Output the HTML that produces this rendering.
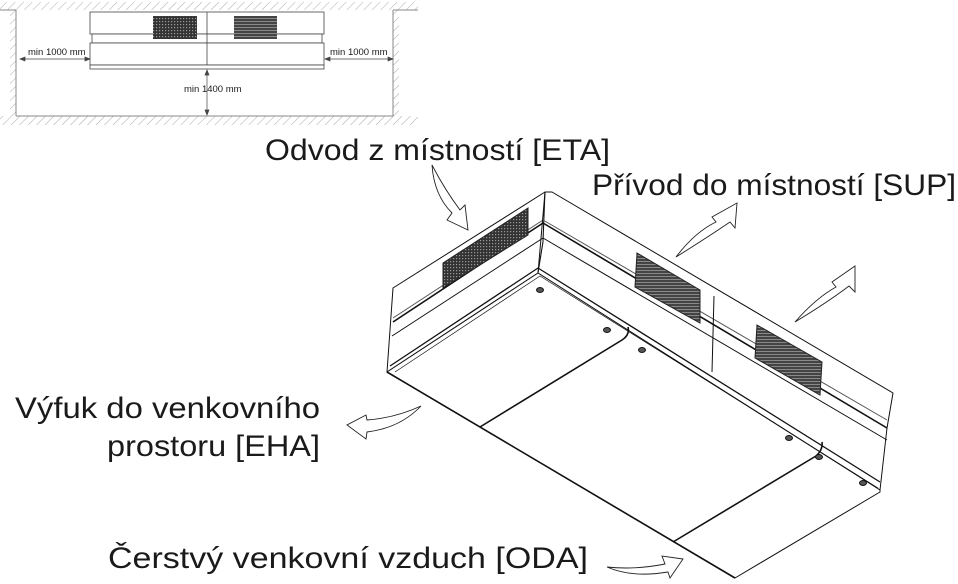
<!DOCTYPE html>
<html><head><meta charset="utf-8"><style>
html,body{margin:0;padding:0;background:#fff;width:958px;height:584px;overflow:hidden}
svg{display:block}
text{font-family:"Liberation Sans","DejaVu Sans",sans-serif;fill:#1a1a1a}
</style></head><body>
<svg width="958" height="584" viewBox="0 0 958 584" xmlns="http://www.w3.org/2000/svg">
<defs>
<pattern id="h" width="6" height="6" patternUnits="userSpaceOnUse" patternTransform="rotate(45)">
<rect width="6" height="6" fill="#fff"/><line x1="0" y1="0" x2="0" y2="6" stroke="#aaa" stroke-width="1"/></pattern>
<pattern id="g" width="3" height="3" patternUnits="userSpaceOnUse"><rect width="3" height="3" fill="#333"/><rect width="1.2" height="1.2" fill="#999"/></pattern>
<pattern id="g2" width="3" height="3" patternUnits="userSpaceOnUse"><rect width="3" height="3" fill="#444"/><rect width="3" height="1" fill="#888"/></pattern>
</defs>
<!-- inset -->
<rect x="0" y="2" width="418" height="8" fill="url(#h)"/>
<rect x="10" y="8" width="6" height="108" fill="url(#h)"/>
<rect x="393" y="8" width="6" height="108" fill="url(#h)"/>
<rect x="0" y="116" width="418" height="9" fill="url(#h)"/>
<line x1="0" y1="10" x2="16" y2="10" stroke="#888"/><line x1="16" y1="10" x2="16" y2="116" stroke="#888"/>
<line x1="16" y1="116" x2="393" y2="116" stroke="#888"/><line x1="393" y1="10" x2="393" y2="116" stroke="#888"/>
<line x1="393" y1="10" x2="418" y2="10" stroke="#888"/>
<g fill="#fff" stroke="#444" stroke-width="0.8">
<rect x="90" y="12" width="234" height="22"/>
<rect x="92" y="34" width="230" height="9"/>
<rect x="90" y="43" width="234" height="22"/>
<rect x="90" y="65" width="234" height="4"/>
</g>
<line x1="207" y1="12" x2="207" y2="65" stroke="#444" stroke-width="0.8"/>
<rect x="153" y="16" width="44" height="23" fill="url(#g)"/>
<rect x="234" y="16" width="43" height="23" fill="url(#g2)"/>
<g stroke="#444" stroke-width="0.7" fill="#444">
<line x1="22" y1="59" x2="89" y2="59"/><polygon points="20,59 25,57 25,61"/><polygon points="90,59 85,57 85,61"/>
<line x1="326" y1="59" x2="392" y2="59"/><polygon points="325,59 330,57 330,61"/><polygon points="393,59 388,57 388,61"/>
<line x1="207" y1="72" x2="207" y2="114"/><polygon points="207,70 205,75 209,75"/><polygon points="207,115 205,110 209,110"/>
</g>
<g fill="#222"><text x="28" y="55" style="font-size:9.5px">min 1000 mm</text>
<text x="330" y="55" style="font-size:9.5px">min 1000 mm</text>
<text x="184" y="92" style="font-size:9.5px">min 1400 mm</text></g>
<!-- labels -->
<g style="font-size:30px">
<text x="265" y="160" textLength="345" lengthAdjust="spacingAndGlyphs">Odvod z místností [ETA]</text>
<text x="592" y="195" textLength="364" lengthAdjust="spacingAndGlyphs">Přívod do místností [SUP]</text>
<text x="15" y="418" textLength="305" lengthAdjust="spacingAndGlyphs">Výfuk do venkovního</text>
<text x="107" y="456" textLength="213" lengthAdjust="spacingAndGlyphs">prostoru [EHA]</text>
<text x="108" y="568" textLength="480" lengthAdjust="spacingAndGlyphs">Čerstvý venkovní vzduch [ODA]</text>
</g>
<!-- unit -->
<g stroke="#111" stroke-width="1" fill="#fff" stroke-linejoin="round">
<polygon points="393,288 545,192 543,242 538,273 387,372"/>
<polygon points="545,192 552,192 893,393 887,428 880,490 538,273 543,242"/>
<polygon points="387,372 538,273 880,490 880,492 735,578"/>
</g>
<g stroke="#111" fill="none" stroke-linejoin="round">
<polyline points="393,322 543,223 887,428" stroke-width="1.6"/>
<polyline points="392,336 543,238 887,440" stroke-width="1"/>
<polyline points="393,318 543,220 887,420" stroke-width="1" stroke="#555"/>
<polyline points="390,366 538,268 880,482" stroke-width="1.3"/>
<polyline points="395,372 540,276 878,488" stroke-width="0.7"/>
<line x1="545" y1="192" x2="538" y2="273" stroke-width="1"/>
<line x1="714" y1="296" x2="712" y2="372" stroke-width="1"/>
<path d="M628,327 Q630,335 622,340 L480,427" stroke-width="1.6"/>
<path d="M822,442 Q823,450 816,456 L673,542" stroke-width="1.6"/>
<polyline points="387,372 735,578" stroke-width="1.6"/>
</g>
<polygon points="443,263 528,208 528,235 443,288" fill="url(#g)" stroke="#222"/>
<polygon points="637,253 700,290 700,323 635,287" fill="url(#g2)" stroke="#222"/>
<polygon points="757,325 822,362 820,395 755,358" fill="url(#g2)" stroke="#222"/>
<g fill="#555" stroke="#111" stroke-width="1">
<ellipse cx="540" cy="290" rx="3.5" ry="2.5"/><ellipse cx="607" cy="330" rx="3.5" ry="2.5"/>
<ellipse cx="642" cy="350" rx="3.5" ry="2.5"/><ellipse cx="789" cy="438" rx="3.5" ry="2.5"/>
<ellipse cx="819" cy="457" rx="3.5" ry="2.5"/><ellipse cx="863" cy="483" rx="3.5" ry="2.5"/>
</g>
<!-- arrows -->
<g fill="#fff" stroke="#222" stroke-width="0.9" stroke-linejoin="miter">
<path d="M432,165 Q434,195 452,213 L447,220 L468,230 L465,205 L460,210 Q445,190 432,165 Z"/>
<path d="M676,257 Q695,232 716,222 L712,217 L737,203 L735,228 L730,222 Q708,237 676,257 Z"/>
<path d="M795,322 Q816,298 836,287 L832,282 L855,266 L855,292 L849,286 Q828,302 795,322 Z"/>
<path d="M421,406 Q395,418 367,420 L366,415 L347,425 L366,439 L367,432 Q400,428 421,406 Z"/>
<path d="M607,567 Q632,578 668,572 L670,578 L683,559 L662,556 L665,564 Q635,570 607,567 Z"/>
</g>
</svg>
</body></html>
